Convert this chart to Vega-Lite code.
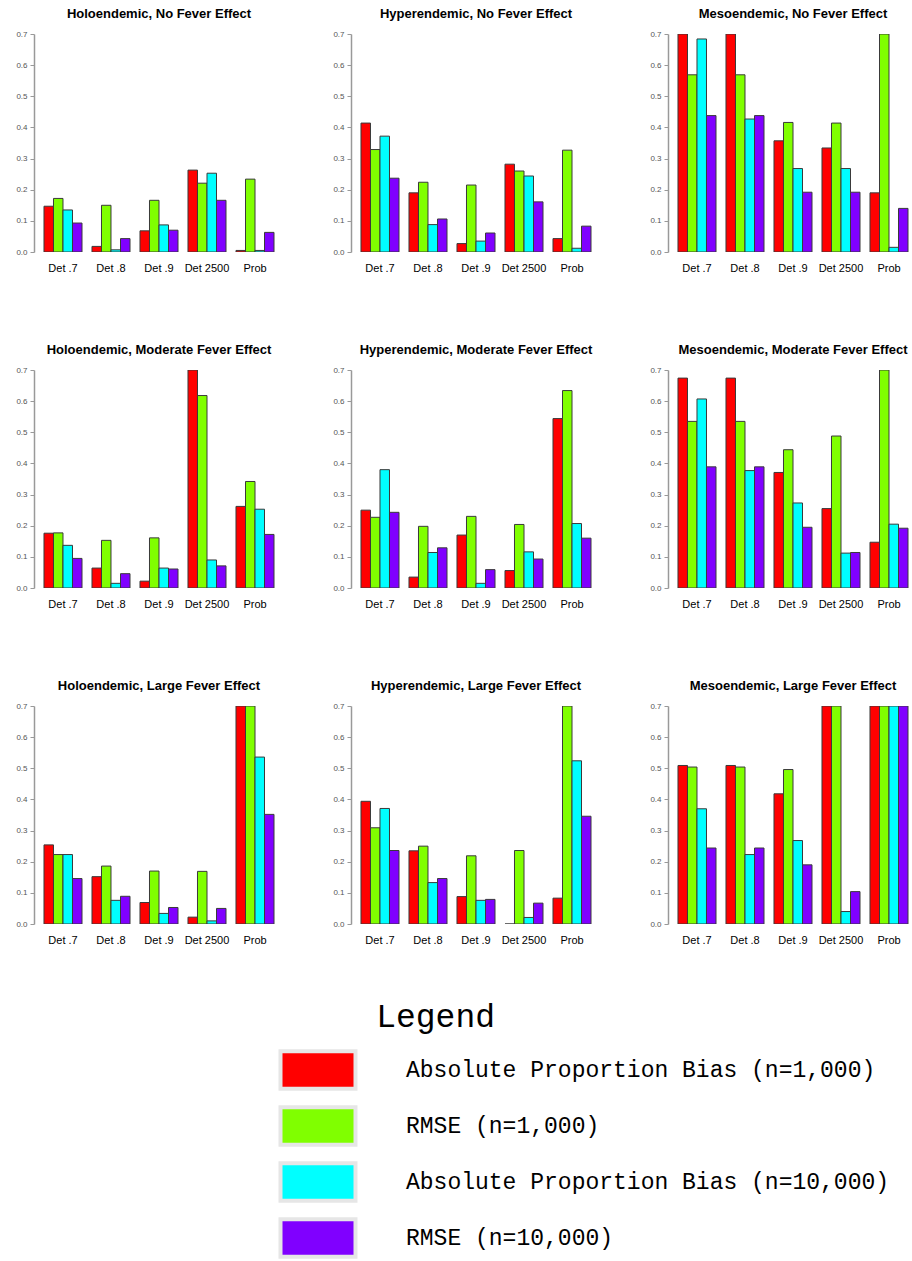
{
"$schema": "https://vega.github.io/schema/vega-lite/v6.json",
"padding": {"left": 15, "top": 8, "right": 0, "bottom": 0},
"config": {"view": {"stroke": null}, "font": "Liberation Sans"},
"data": {"values": [
{"panel":"Holoendemic, No Fever Effect","method":"Det .7","series":"Absolute Proportion Bias (n=1,000)","value":0.147},
{"panel":"Holoendemic, No Fever Effect","method":"Det .7","series":"RMSE (n=1,000)","value":0.172},
{"panel":"Holoendemic, No Fever Effect","method":"Det .7","series":"Absolute Proportion Bias (n=10,000)","value":0.135},
{"panel":"Holoendemic, No Fever Effect","method":"Det .7","series":"RMSE (n=10,000)","value":0.093},
{"panel":"Holoendemic, No Fever Effect","method":"Det .8","series":"Absolute Proportion Bias (n=1,000)","value":0.018},
{"panel":"Holoendemic, No Fever Effect","method":"Det .8","series":"RMSE (n=1,000)","value":0.150},
{"panel":"Holoendemic, No Fever Effect","method":"Det .8","series":"Absolute Proportion Bias (n=10,000)","value":0.007},
{"panel":"Holoendemic, No Fever Effect","method":"Det .8","series":"RMSE (n=10,000)","value":0.043},
{"panel":"Holoendemic, No Fever Effect","method":"Det .9","series":"Absolute Proportion Bias (n=1,000)","value":0.068},
{"panel":"Holoendemic, No Fever Effect","method":"Det .9","series":"RMSE (n=1,000)","value":0.166},
{"panel":"Holoendemic, No Fever Effect","method":"Det .9","series":"Absolute Proportion Bias (n=10,000)","value":0.087},
{"panel":"Holoendemic, No Fever Effect","method":"Det .9","series":"RMSE (n=10,000)","value":0.070},
{"panel":"Holoendemic, No Fever Effect","method":"Det 2500","series":"Absolute Proportion Bias (n=1,000)","value":0.263},
{"panel":"Holoendemic, No Fever Effect","method":"Det 2500","series":"RMSE (n=1,000)","value":0.221},
{"panel":"Holoendemic, No Fever Effect","method":"Det 2500","series":"Absolute Proportion Bias (n=10,000)","value":0.253},
{"panel":"Holoendemic, No Fever Effect","method":"Det 2500","series":"RMSE (n=10,000)","value":0.166},
{"panel":"Holoendemic, No Fever Effect","method":"Prob","series":"Absolute Proportion Bias (n=1,000)","value":0.005},
{"panel":"Holoendemic, No Fever Effect","method":"Prob","series":"RMSE (n=1,000)","value":0.234},
{"panel":"Holoendemic, No Fever Effect","method":"Prob","series":"Absolute Proportion Bias (n=10,000)","value":0.005},
{"panel":"Holoendemic, No Fever Effect","method":"Prob","series":"RMSE (n=10,000)","value":0.063},
{"panel":"Hyperendemic, No Fever Effect","method":"Det .7","series":"Absolute Proportion Bias (n=1,000)","value":0.414},
{"panel":"Hyperendemic, No Fever Effect","method":"Det .7","series":"RMSE (n=1,000)","value":0.329},
{"panel":"Hyperendemic, No Fever Effect","method":"Det .7","series":"Absolute Proportion Bias (n=10,000)","value":0.372},
{"panel":"Hyperendemic, No Fever Effect","method":"Det .7","series":"RMSE (n=10,000)","value":0.237},
{"panel":"Hyperendemic, No Fever Effect","method":"Det .8","series":"Absolute Proportion Bias (n=1,000)","value":0.190},
{"panel":"Hyperendemic, No Fever Effect","method":"Det .8","series":"RMSE (n=1,000)","value":0.224},
{"panel":"Hyperendemic, No Fever Effect","method":"Det .8","series":"Absolute Proportion Bias (n=10,000)","value":0.088},
{"panel":"Hyperendemic, No Fever Effect","method":"Det .8","series":"RMSE (n=10,000)","value":0.106},
{"panel":"Hyperendemic, No Fever Effect","method":"Det .9","series":"Absolute Proportion Bias (n=1,000)","value":0.027},
{"panel":"Hyperendemic, No Fever Effect","method":"Det .9","series":"RMSE (n=1,000)","value":0.215},
{"panel":"Hyperendemic, No Fever Effect","method":"Det .9","series":"Absolute Proportion Bias (n=10,000)","value":0.035},
{"panel":"Hyperendemic, No Fever Effect","method":"Det .9","series":"RMSE (n=10,000)","value":0.061},
{"panel":"Hyperendemic, No Fever Effect","method":"Det 2500","series":"Absolute Proportion Bias (n=1,000)","value":0.282},
{"panel":"Hyperendemic, No Fever Effect","method":"Det 2500","series":"RMSE (n=1,000)","value":0.260},
{"panel":"Hyperendemic, No Fever Effect","method":"Det 2500","series":"Absolute Proportion Bias (n=10,000)","value":0.244},
{"panel":"Hyperendemic, No Fever Effect","method":"Det 2500","series":"RMSE (n=10,000)","value":0.161},
{"panel":"Hyperendemic, No Fever Effect","method":"Prob","series":"Absolute Proportion Bias (n=1,000)","value":0.043},
{"panel":"Hyperendemic, No Fever Effect","method":"Prob","series":"RMSE (n=1,000)","value":0.327},
{"panel":"Hyperendemic, No Fever Effect","method":"Prob","series":"Absolute Proportion Bias (n=10,000)","value":0.012},
{"panel":"Hyperendemic, No Fever Effect","method":"Prob","series":"RMSE (n=10,000)","value":0.083},
{"panel":"Mesoendemic, No Fever Effect","method":"Det .7","series":"Absolute Proportion Bias (n=1,000)","value":0.7},
{"panel":"Mesoendemic, No Fever Effect","method":"Det .7","series":"RMSE (n=1,000)","value":0.569},
{"panel":"Mesoendemic, No Fever Effect","method":"Det .7","series":"Absolute Proportion Bias (n=10,000)","value":0.684},
{"panel":"Mesoendemic, No Fever Effect","method":"Det .7","series":"RMSE (n=10,000)","value":0.438},
{"panel":"Mesoendemic, No Fever Effect","method":"Det .8","series":"Absolute Proportion Bias (n=1,000)","value":0.7},
{"panel":"Mesoendemic, No Fever Effect","method":"Det .8","series":"RMSE (n=1,000)","value":0.569},
{"panel":"Mesoendemic, No Fever Effect","method":"Det .8","series":"Absolute Proportion Bias (n=10,000)","value":0.427},
{"panel":"Mesoendemic, No Fever Effect","method":"Det .8","series":"RMSE (n=10,000)","value":0.438},
{"panel":"Mesoendemic, No Fever Effect","method":"Det .9","series":"Absolute Proportion Bias (n=1,000)","value":0.357},
{"panel":"Mesoendemic, No Fever Effect","method":"Det .9","series":"RMSE (n=1,000)","value":0.416},
{"panel":"Mesoendemic, No Fever Effect","method":"Det .9","series":"Absolute Proportion Bias (n=10,000)","value":0.268},
{"panel":"Mesoendemic, No Fever Effect","method":"Det .9","series":"RMSE (n=10,000)","value":0.192},
{"panel":"Mesoendemic, No Fever Effect","method":"Det 2500","series":"Absolute Proportion Bias (n=1,000)","value":0.334},
{"panel":"Mesoendemic, No Fever Effect","method":"Det 2500","series":"RMSE (n=1,000)","value":0.414},
{"panel":"Mesoendemic, No Fever Effect","method":"Det 2500","series":"Absolute Proportion Bias (n=10,000)","value":0.268},
{"panel":"Mesoendemic, No Fever Effect","method":"Det 2500","series":"RMSE (n=10,000)","value":0.192},
{"panel":"Mesoendemic, No Fever Effect","method":"Prob","series":"Absolute Proportion Bias (n=1,000)","value":0.190},
{"panel":"Mesoendemic, No Fever Effect","method":"Prob","series":"RMSE (n=1,000)","value":0.7},
{"panel":"Mesoendemic, No Fever Effect","method":"Prob","series":"Absolute Proportion Bias (n=10,000)","value":0.015},
{"panel":"Mesoendemic, No Fever Effect","method":"Prob","series":"RMSE (n=10,000)","value":0.140},
{"panel":"Holoendemic, Moderate Fever Effect","method":"Det .7","series":"Absolute Proportion Bias (n=1,000)","value":0.176},
{"panel":"Holoendemic, Moderate Fever Effect","method":"Det .7","series":"RMSE (n=1,000)","value":0.177},
{"panel":"Holoendemic, Moderate Fever Effect","method":"Det .7","series":"Absolute Proportion Bias (n=10,000)","value":0.137},
{"panel":"Holoendemic, Moderate Fever Effect","method":"Det .7","series":"RMSE (n=10,000)","value":0.095},
{"panel":"Holoendemic, Moderate Fever Effect","method":"Det .8","series":"Absolute Proportion Bias (n=1,000)","value":0.064},
{"panel":"Holoendemic, Moderate Fever Effect","method":"Det .8","series":"RMSE (n=1,000)","value":0.153},
{"panel":"Holoendemic, Moderate Fever Effect","method":"Det .8","series":"Absolute Proportion Bias (n=10,000)","value":0.015},
{"panel":"Holoendemic, Moderate Fever Effect","method":"Det .8","series":"RMSE (n=10,000)","value":0.046},
{"panel":"Holoendemic, Moderate Fever Effect","method":"Det .9","series":"Absolute Proportion Bias (n=1,000)","value":0.022},
{"panel":"Holoendemic, Moderate Fever Effect","method":"Det .9","series":"RMSE (n=1,000)","value":0.161},
{"panel":"Holoendemic, Moderate Fever Effect","method":"Det .9","series":"Absolute Proportion Bias (n=10,000)","value":0.064},
{"panel":"Holoendemic, Moderate Fever Effect","method":"Det .9","series":"RMSE (n=10,000)","value":0.061},
{"panel":"Holoendemic, Moderate Fever Effect","method":"Det 2500","series":"Absolute Proportion Bias (n=1,000)","value":0.7},
{"panel":"Holoendemic, Moderate Fever Effect","method":"Det 2500","series":"RMSE (n=1,000)","value":0.618},
{"panel":"Holoendemic, Moderate Fever Effect","method":"Det 2500","series":"Absolute Proportion Bias (n=10,000)","value":0.090},
{"panel":"Holoendemic, Moderate Fever Effect","method":"Det 2500","series":"RMSE (n=10,000)","value":0.071},
{"panel":"Holoendemic, Moderate Fever Effect","method":"Prob","series":"Absolute Proportion Bias (n=1,000)","value":0.262},
{"panel":"Holoendemic, Moderate Fever Effect","method":"Prob","series":"RMSE (n=1,000)","value":0.342},
{"panel":"Holoendemic, Moderate Fever Effect","method":"Prob","series":"Absolute Proportion Bias (n=10,000)","value":0.253},
{"panel":"Holoendemic, Moderate Fever Effect","method":"Prob","series":"RMSE (n=10,000)","value":0.172},
{"panel":"Hyperendemic, Moderate Fever Effect","method":"Det .7","series":"Absolute Proportion Bias (n=1,000)","value":0.250},
{"panel":"Hyperendemic, Moderate Fever Effect","method":"Det .7","series":"RMSE (n=1,000)","value":0.227},
{"panel":"Hyperendemic, Moderate Fever Effect","method":"Det .7","series":"Absolute Proportion Bias (n=10,000)","value":0.380},
{"panel":"Hyperendemic, Moderate Fever Effect","method":"Det .7","series":"RMSE (n=10,000)","value":0.243},
{"panel":"Hyperendemic, Moderate Fever Effect","method":"Det .8","series":"Absolute Proportion Bias (n=1,000)","value":0.035},
{"panel":"Hyperendemic, Moderate Fever Effect","method":"Det .8","series":"RMSE (n=1,000)","value":0.198},
{"panel":"Hyperendemic, Moderate Fever Effect","method":"Det .8","series":"Absolute Proportion Bias (n=10,000)","value":0.114},
{"panel":"Hyperendemic, Moderate Fever Effect","method":"Det .8","series":"RMSE (n=10,000)","value":0.129},
{"panel":"Hyperendemic, Moderate Fever Effect","method":"Det .9","series":"Absolute Proportion Bias (n=1,000)","value":0.170},
{"panel":"Hyperendemic, Moderate Fever Effect","method":"Det .9","series":"RMSE (n=1,000)","value":0.230},
{"panel":"Hyperendemic, Moderate Fever Effect","method":"Det .9","series":"Absolute Proportion Bias (n=10,000)","value":0.015},
{"panel":"Hyperendemic, Moderate Fever Effect","method":"Det .9","series":"RMSE (n=10,000)","value":0.059},
{"panel":"Hyperendemic, Moderate Fever Effect","method":"Det 2500","series":"Absolute Proportion Bias (n=1,000)","value":0.056},
{"panel":"Hyperendemic, Moderate Fever Effect","method":"Det 2500","series":"RMSE (n=1,000)","value":0.204},
{"panel":"Hyperendemic, Moderate Fever Effect","method":"Det 2500","series":"Absolute Proportion Bias (n=10,000)","value":0.116},
{"panel":"Hyperendemic, Moderate Fever Effect","method":"Det 2500","series":"RMSE (n=10,000)","value":0.093},
{"panel":"Hyperendemic, Moderate Fever Effect","method":"Prob","series":"Absolute Proportion Bias (n=1,000)","value":0.544},
{"panel":"Hyperendemic, Moderate Fever Effect","method":"Prob","series":"RMSE (n=1,000)","value":0.634},
{"panel":"Hyperendemic, Moderate Fever Effect","method":"Prob","series":"Absolute Proportion Bias (n=10,000)","value":0.207},
{"panel":"Hyperendemic, Moderate Fever Effect","method":"Prob","series":"RMSE (n=10,000)","value":0.160},
{"panel":"Mesoendemic, Moderate Fever Effect","method":"Det .7","series":"Absolute Proportion Bias (n=1,000)","value":0.674},
{"panel":"Mesoendemic, Moderate Fever Effect","method":"Det .7","series":"RMSE (n=1,000)","value":0.535},
{"panel":"Mesoendemic, Moderate Fever Effect","method":"Det .7","series":"Absolute Proportion Bias (n=10,000)","value":0.607},
{"panel":"Mesoendemic, Moderate Fever Effect","method":"Det .7","series":"RMSE (n=10,000)","value":0.389},
{"panel":"Mesoendemic, Moderate Fever Effect","method":"Det .8","series":"Absolute Proportion Bias (n=1,000)","value":0.674},
{"panel":"Mesoendemic, Moderate Fever Effect","method":"Det .8","series":"RMSE (n=1,000)","value":0.535},
{"panel":"Mesoendemic, Moderate Fever Effect","method":"Det .8","series":"Absolute Proportion Bias (n=10,000)","value":0.377},
{"panel":"Mesoendemic, Moderate Fever Effect","method":"Det .8","series":"RMSE (n=10,000)","value":0.389},
{"panel":"Mesoendemic, Moderate Fever Effect","method":"Det .9","series":"Absolute Proportion Bias (n=1,000)","value":0.371},
{"panel":"Mesoendemic, Moderate Fever Effect","method":"Det .9","series":"RMSE (n=1,000)","value":0.444},
{"panel":"Mesoendemic, Moderate Fever Effect","method":"Det .9","series":"Absolute Proportion Bias (n=10,000)","value":0.273},
{"panel":"Mesoendemic, Moderate Fever Effect","method":"Det .9","series":"RMSE (n=10,000)","value":0.195},
{"panel":"Mesoendemic, Moderate Fever Effect","method":"Det 2500","series":"Absolute Proportion Bias (n=1,000)","value":0.255},
{"panel":"Mesoendemic, Moderate Fever Effect","method":"Det 2500","series":"RMSE (n=1,000)","value":0.488},
{"panel":"Mesoendemic, Moderate Fever Effect","method":"Det 2500","series":"Absolute Proportion Bias (n=10,000)","value":0.112},
{"panel":"Mesoendemic, Moderate Fever Effect","method":"Det 2500","series":"RMSE (n=10,000)","value":0.114},
{"panel":"Mesoendemic, Moderate Fever Effect","method":"Prob","series":"Absolute Proportion Bias (n=1,000)","value":0.147},
{"panel":"Mesoendemic, Moderate Fever Effect","method":"Prob","series":"RMSE (n=1,000)","value":0.7},
{"panel":"Mesoendemic, Moderate Fever Effect","method":"Prob","series":"Absolute Proportion Bias (n=10,000)","value":0.205},
{"panel":"Mesoendemic, Moderate Fever Effect","method":"Prob","series":"RMSE (n=10,000)","value":0.192},
{"panel":"Holoendemic, Large Fever Effect","method":"Det .7","series":"Absolute Proportion Bias (n=1,000)","value":0.254},
{"panel":"Holoendemic, Large Fever Effect","method":"Det .7","series":"RMSE (n=1,000)","value":0.223},
{"panel":"Holoendemic, Large Fever Effect","method":"Det .7","series":"Absolute Proportion Bias (n=10,000)","value":0.223},
{"panel":"Holoendemic, Large Fever Effect","method":"Det .7","series":"RMSE (n=10,000)","value":0.146},
{"panel":"Holoendemic, Large Fever Effect","method":"Det .8","series":"Absolute Proportion Bias (n=1,000)","value":0.152},
{"panel":"Holoendemic, Large Fever Effect","method":"Det .8","series":"RMSE (n=1,000)","value":0.186},
{"panel":"Holoendemic, Large Fever Effect","method":"Det .8","series":"Absolute Proportion Bias (n=10,000)","value":0.076},
{"panel":"Holoendemic, Large Fever Effect","method":"Det .8","series":"RMSE (n=10,000)","value":0.089},
{"panel":"Holoendemic, Large Fever Effect","method":"Det .9","series":"Absolute Proportion Bias (n=1,000)","value":0.069},
{"panel":"Holoendemic, Large Fever Effect","method":"Det .9","series":"RMSE (n=1,000)","value":0.170},
{"panel":"Holoendemic, Large Fever Effect","method":"Det .9","series":"Absolute Proportion Bias (n=10,000)","value":0.034},
{"panel":"Holoendemic, Large Fever Effect","method":"Det .9","series":"RMSE (n=10,000)","value":0.053},
{"panel":"Holoendemic, Large Fever Effect","method":"Det 2500","series":"Absolute Proportion Bias (n=1,000)","value":0.022},
{"panel":"Holoendemic, Large Fever Effect","method":"Det 2500","series":"RMSE (n=1,000)","value":0.169},
{"panel":"Holoendemic, Large Fever Effect","method":"Det 2500","series":"Absolute Proportion Bias (n=10,000)","value":0.010},
{"panel":"Holoendemic, Large Fever Effect","method":"Det 2500","series":"RMSE (n=10,000)","value":0.050},
{"panel":"Holoendemic, Large Fever Effect","method":"Prob","series":"Absolute Proportion Bias (n=1,000)","value":0.7},
{"panel":"Holoendemic, Large Fever Effect","method":"Prob","series":"RMSE (n=1,000)","value":0.7},
{"panel":"Holoendemic, Large Fever Effect","method":"Prob","series":"Absolute Proportion Bias (n=10,000)","value":0.536},
{"panel":"Holoendemic, Large Fever Effect","method":"Prob","series":"RMSE (n=10,000)","value":0.352},
{"panel":"Hyperendemic, Large Fever Effect","method":"Det .7","series":"Absolute Proportion Bias (n=1,000)","value":0.394},
{"panel":"Hyperendemic, Large Fever Effect","method":"Det .7","series":"RMSE (n=1,000)","value":0.309},
{"panel":"Hyperendemic, Large Fever Effect","method":"Det .7","series":"Absolute Proportion Bias (n=10,000)","value":0.371},
{"panel":"Hyperendemic, Large Fever Effect","method":"Det .7","series":"RMSE (n=10,000)","value":0.236},
{"panel":"Hyperendemic, Large Fever Effect","method":"Det .8","series":"Absolute Proportion Bias (n=1,000)","value":0.235},
{"panel":"Hyperendemic, Large Fever Effect","method":"Det .8","series":"RMSE (n=1,000)","value":0.250},
{"panel":"Hyperendemic, Large Fever Effect","method":"Det .8","series":"Absolute Proportion Bias (n=10,000)","value":0.133},
{"panel":"Hyperendemic, Large Fever Effect","method":"Det .8","series":"RMSE (n=10,000)","value":0.146},
{"panel":"Hyperendemic, Large Fever Effect","method":"Det .9","series":"Absolute Proportion Bias (n=1,000)","value":0.088},
{"panel":"Hyperendemic, Large Fever Effect","method":"Det .9","series":"RMSE (n=1,000)","value":0.219},
{"panel":"Hyperendemic, Large Fever Effect","method":"Det .9","series":"Absolute Proportion Bias (n=10,000)","value":0.076},
{"panel":"Hyperendemic, Large Fever Effect","method":"Det .9","series":"RMSE (n=10,000)","value":0.079},
{"panel":"Hyperendemic, Large Fever Effect","method":"Det 2500","series":"Absolute Proportion Bias (n=1,000)","value":0.0},
{"panel":"Hyperendemic, Large Fever Effect","method":"Det 2500","series":"RMSE (n=1,000)","value":0.236},
{"panel":"Hyperendemic, Large Fever Effect","method":"Det 2500","series":"Absolute Proportion Bias (n=10,000)","value":0.021},
{"panel":"Hyperendemic, Large Fever Effect","method":"Det 2500","series":"RMSE (n=10,000)","value":0.067},
{"panel":"Hyperendemic, Large Fever Effect","method":"Prob","series":"Absolute Proportion Bias (n=1,000)","value":0.083},
{"panel":"Hyperendemic, Large Fever Effect","method":"Prob","series":"RMSE (n=1,000)","value":0.7},
{"panel":"Hyperendemic, Large Fever Effect","method":"Prob","series":"Absolute Proportion Bias (n=10,000)","value":0.524},
{"panel":"Hyperendemic, Large Fever Effect","method":"Prob","series":"RMSE (n=10,000)","value":0.346},
{"panel":"Mesoendemic, Large Fever Effect","method":"Det .7","series":"Absolute Proportion Bias (n=1,000)","value":0.509},
{"panel":"Mesoendemic, Large Fever Effect","method":"Det .7","series":"RMSE (n=1,000)","value":0.504},
{"panel":"Mesoendemic, Large Fever Effect","method":"Det .7","series":"Absolute Proportion Bias (n=10,000)","value":0.370},
{"panel":"Mesoendemic, Large Fever Effect","method":"Det .7","series":"RMSE (n=10,000)","value":0.244},
{"panel":"Mesoendemic, Large Fever Effect","method":"Det .8","series":"Absolute Proportion Bias (n=1,000)","value":0.509},
{"panel":"Mesoendemic, Large Fever Effect","method":"Det .8","series":"RMSE (n=1,000)","value":0.504},
{"panel":"Mesoendemic, Large Fever Effect","method":"Det .8","series":"Absolute Proportion Bias (n=10,000)","value":0.223},
{"panel":"Mesoendemic, Large Fever Effect","method":"Det .8","series":"RMSE (n=10,000)","value":0.244},
{"panel":"Mesoendemic, Large Fever Effect","method":"Det .9","series":"Absolute Proportion Bias (n=1,000)","value":0.418},
{"panel":"Mesoendemic, Large Fever Effect","method":"Det .9","series":"RMSE (n=1,000)","value":0.496},
{"panel":"Mesoendemic, Large Fever Effect","method":"Det .9","series":"Absolute Proportion Bias (n=10,000)","value":0.268},
{"panel":"Mesoendemic, Large Fever Effect","method":"Det .9","series":"RMSE (n=10,000)","value":0.190},
{"panel":"Mesoendemic, Large Fever Effect","method":"Det 2500","series":"Absolute Proportion Bias (n=1,000)","value":0.7},
{"panel":"Mesoendemic, Large Fever Effect","method":"Det 2500","series":"RMSE (n=1,000)","value":0.7},
{"panel":"Mesoendemic, Large Fever Effect","method":"Det 2500","series":"Absolute Proportion Bias (n=10,000)","value":0.040},
{"panel":"Mesoendemic, Large Fever Effect","method":"Det 2500","series":"RMSE (n=10,000)","value":0.104},
{"panel":"Mesoendemic, Large Fever Effect","method":"Prob","series":"Absolute Proportion Bias (n=1,000)","value":0.7},
{"panel":"Mesoendemic, Large Fever Effect","method":"Prob","series":"RMSE (n=1,000)","value":0.7},
{"panel":"Mesoendemic, Large Fever Effect","method":"Prob","series":"Absolute Proportion Bias (n=10,000)","value":0.7},
{"panel":"Mesoendemic, Large Fever Effect","method":"Prob","series":"RMSE (n=10,000)","value":0.7}
]},
"facet": {"field": "panel", "type": "nominal", "title": null,
  "sort": ["Holoendemic, No Fever Effect","Hyperendemic, No Fever Effect","Mesoendemic, No Fever Effect","Holoendemic, Moderate Fever Effect","Hyperendemic, Moderate Fever Effect","Mesoendemic, Moderate Fever Effect","Holoendemic, Large Fever Effect","Hyperendemic, Large Fever Effect","Mesoendemic, Large Fever Effect"],
  "header": {"labelFont": "Liberation Sans", "labelFontSize": 13, "labelFontWeight": "bold", "labelColor": "#000000", "labelPadding": 9, "labelAnchor": "middle"}},
"columns": 3,
"spacing": {"column": 67, "row": 118},
"bounds": "flush",
"resolve": {"axis": {"x": "independent", "y": "independent"}},
"spec": {
  "width": 250,
  "height": 218,
  "mark": {"type": "bar", "stroke": "#3a3a3a", "strokeWidth": 1, "clip": true},
  "encoding": {
    "x": {"field": "method", "type": "nominal", "sort": ["Det .7","Det .8","Det .9","Det 2500","Prob"],
      "scale": {"paddingInner": 0.208, "paddingOuter": 0.208},
      "axis": {"title": null, "labelAngle": 0, "labelFontSize": 11, "labelColor": "#000000", "domain": false, "ticks": false, "labelPadding": 10, "labelFont": "Liberation Sans"}},
    "xOffset": {"field": "series", "type": "nominal", "sort": ["Absolute Proportion Bias (n=1,000)","RMSE (n=1,000)","Absolute Proportion Bias (n=10,000)","RMSE (n=10,000)"], "scale": {"paddingInner": 0, "paddingOuter": 0}},
    "y": {"field": "value", "type": "quantitative", "scale": {"domain": [0, 0.7], "nice": false},
      "axis": {"title": null, "values": [0,0.1,0.2,0.3,0.4,0.5,0.6,0.7], "format": ".1f", "grid": false, "labelFontSize": 8, "labelColor": "#555555", "tickColor": "#999999", "domainColor": "#999999", "tickSize": 4, "labelPadding": 3, "labelFont": "Liberation Sans", "domainWidth": 1.5}},
    "color": {"field": "series", "type": "nominal", "sort": ["Absolute Proportion Bias (n=1,000)","RMSE (n=1,000)","Absolute Proportion Bias (n=10,000)","RMSE (n=10,000)"],
      "scale": {"domain": ["Absolute Proportion Bias (n=1,000)","RMSE (n=1,000)","Absolute Proportion Bias (n=10,000)","RMSE (n=10,000)"], "range": ["#FF0000","#80FF00","#00FFFF","#8000FF"]},
      "legend": {"orient": "none", "legendX": 263, "legendY": 967, "direction": "vertical",
        "title": "\u200b\u00a0\u00a0\u00a0\u00a0Legend", "titleFont": "Liberation Mono", "titleFontSize": 33, "titleFontWeight": "normal", "titleColor": "#000000", "titlePadding": 15, "titleLimit": 600,
        "symbolType": "M-2,-1H2V1H-2Z", "symbolSize": 1406, "symbolStrokeColor": "#e6e6e6", "symbolStrokeWidth": 4, "symbolOpacity": 1,
        "labelFont": "Liberation Mono", "labelFontSize": 23, "labelColor": "#000000", "labelOffset": 67, "labelLimit": 700, "rowPadding": 2,
        "encode": {"symbols": {
          "enter": {"fill": [{"test": "datum.value === 'RMSE (n=1,000)'", "value": "#66FF33"}, {"test": "datum.value === 'Absolute Proportion Bias (n=10,000)'", "value": "#66FFFF"}, {"test": "datum.value === 'RMSE (n=10,000)'", "value": "#6600FF"}, {"value": "#FF0000"}]},
          "update": {"fill": [{"test": "datum.value === 'RMSE (n=1,000)'", "value": "#66FF33"}, {"test": "datum.value === 'Absolute Proportion Bias (n=10,000)'", "value": "#66FFFF"}, {"test": "datum.value === 'RMSE (n=10,000)'", "value": "#6600FF"}, {"value": "#FF0000"}], "stroke": {"value": "#e6e6e6"}, "strokeWidth": {"value": 4}, "opacity": {"value": 1}}}}}}
  }
}
}
